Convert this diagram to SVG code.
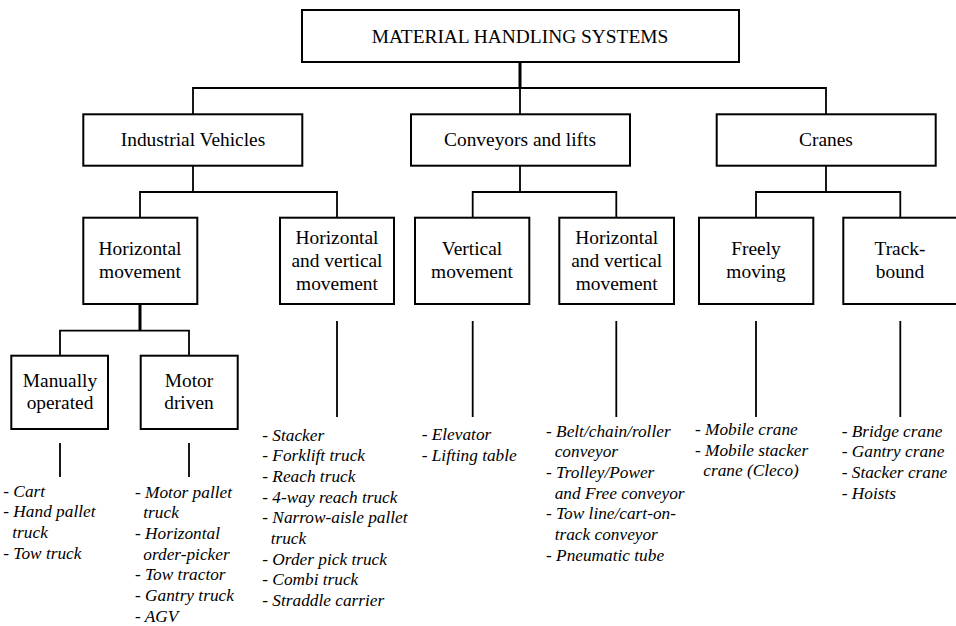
<svg xmlns="http://www.w3.org/2000/svg" width="956" height="626" viewBox="0 0 956 626">
<style>
.box{fill:#fff;stroke:#000;stroke-width:2}
.ln{fill:none;stroke:#000;stroke-width:1.8}
.thick{fill:none;stroke:#000;stroke-width:3}
.bt{font-family:"Liberation Serif","Times New Roman",serif;font-size:19.4px;text-anchor:middle;fill:#000}
.lt{font-family:"Liberation Serif","Times New Roman",serif;font-size:17.3px;font-style:italic;fill:#000}
</style>
<rect width="956" height="626" fill="#fff"/>
<g id="connectors">
<path class="thick" d="M520 62V88"/>
<path class="ln" d="M193 114V88H826V114M520 88V114"/>
<path class="ln" d="M193 166V192M140 218V192H337V218"/>
<path class="ln" d="M520 166V192M472.7 218V192H616.3V218"/>
<path class="ln" d="M826 166V192M756 218V192H900.3V218"/>
<path class="thick" d="M140 304V330.7"/>
<path class="ln" d="M60 356V330.7H189V356"/>
<path class="ln" d="M60 443V477M189 443V477"/>
<path class="ln" d="M337 321V417M472.7 321V417M616.3 321V417M756 321V417M900.3 321V417"/>
</g>
<g id="n-root"><rect class="box" x="302" y="10" width="437" height="52"/><text class="bt" x="520" y="42.5">MATERIAL HANDLING SYSTEMS</text></g>
<g id="n-iv"><rect class="box" x="83.3" y="114.3" width="219" height="51.4"/><text class="bt" x="193" y="146">Industrial Vehicles</text></g>
<g id="n-cl"><rect class="box" x="411" y="114.3" width="219" height="51.4"/><text class="bt" x="520" y="146">Conveyors and lifts</text></g>
<g id="n-cr"><rect class="box" x="716.7" y="114.3" width="219" height="51.4"/><text class="bt" x="826" y="146">Cranes</text></g>
<g id="n-hm"><rect class="box" x="83.3" y="217.7" width="114" height="86.3"/><text class="bt" x="140" y="255">Horizontal</text><text class="bt" x="140" y="278">movement</text></g>
<g id="n-ivhv"><rect class="box" x="280" y="217.7" width="114" height="86.3"/><text class="bt" x="337" y="244.3">Horizontal</text><text class="bt" x="337" y="267.3">and vertical</text><text class="bt" x="337" y="290.3">movement</text></g>
<g id="n-vm"><rect class="box" x="415" y="217.7" width="114.3" height="86.3"/><text class="bt" x="472" y="255">Vertical</text><text class="bt" x="472" y="278">movement</text></g>
<g id="n-clhv"><rect class="box" x="559.3" y="217.7" width="114.7" height="86.3"/><text class="bt" x="616.7" y="244.3">Horizontal</text><text class="bt" x="616.7" y="267.3">and vertical</text><text class="bt" x="616.7" y="290.3">movement</text></g>
<g id="n-fm"><rect class="box" x="699" y="217.7" width="114.3" height="86.3"/><text class="bt" x="756" y="255">Freely</text><text class="bt" x="756" y="278">moving</text></g>
<g id="n-tb"><rect class="box" x="843.3" y="217.7" width="114" height="86.3"/><text class="bt" x="900" y="255">Track-</text><text class="bt" x="900" y="278">bound</text></g>
<g id="n-mo"><rect class="box" x="11.3" y="355.7" width="96.7" height="73.3"/><text class="bt" x="60" y="387.3">Manually</text><text class="bt" x="60" y="409.3">operated</text></g>
<g id="n-md"><rect class="box" x="140.7" y="355.7" width="97" height="73.3"/><text class="bt" x="189" y="387.3">Motor</text><text class="bt" x="189" y="409.3">driven</text></g>
<g id="lists" class="lt">
<text class="lt"><tspan x="3.3" y="496.7">- Cart</tspan><tspan x="3.3" y="517.3">- Hand pallet</tspan><tspan x="12.3" y="538">truck</tspan><tspan x="3.3" y="558.6">- Tow truck</tspan></text>
<text class="lt"><tspan x="135" y="497.7">- Motor pallet</tspan><tspan x="143.3" y="518.3">truck</tspan><tspan x="135" y="539">- Horizontal</tspan><tspan x="143.3" y="559.6">order-picker</tspan><tspan x="135" y="580.3">- Tow tractor</tspan><tspan x="135" y="601">- Gantry truck</tspan><tspan x="135" y="621.6">- AGV</tspan></text>
<text class="lt"><tspan x="262.3" y="440.7">- Stacker</tspan><tspan x="262.3" y="461.3">- Forklift truck</tspan><tspan x="262.3" y="482">- Reach truck</tspan><tspan x="262.3" y="502.7">- 4-way reach truck</tspan><tspan x="262.3" y="523.3">- Narrow-aisle pallet</tspan><tspan x="270.7" y="544">truck</tspan><tspan x="262.3" y="564.6">- Order pick truck</tspan><tspan x="262.3" y="585.3">- Combi truck</tspan><tspan x="262.3" y="606">- Straddle carrier</tspan></text>
<text class="lt"><tspan x="421.7" y="440">- Elevator</tspan><tspan x="421.7" y="460.7">- Lifting table</tspan></text>
<text class="lt"><tspan x="546" y="436.7">- Belt/chain/roller</tspan><tspan x="554.7" y="457.3">conveyor</tspan><tspan x="546" y="478">- Trolley/Power</tspan><tspan x="554.7" y="498.7">and Free conveyor</tspan><tspan x="546" y="519.3">- Tow line/cart-on-</tspan><tspan x="554.7" y="540">track conveyor</tspan><tspan x="546" y="560.7">- Pneumatic tube</tspan></text>
<text class="lt"><tspan x="695" y="435">- Mobile crane</tspan><tspan x="695" y="455.7">- Mobile stacker</tspan><tspan x="703.3" y="476.3">crane (Cleco)</tspan></text>
<text class="lt"><tspan x="841.7" y="436.7">- Bridge crane</tspan><tspan x="841.7" y="457.3">- Gantry crane</tspan><tspan x="841.7" y="478">- Stacker crane</tspan><tspan x="841.7" y="498.7">- Hoists</tspan></text>
</g>
</svg>
